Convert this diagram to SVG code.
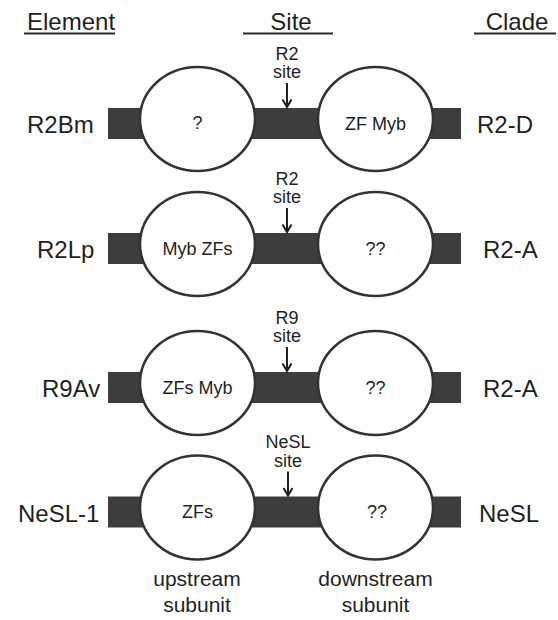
<svg xmlns="http://www.w3.org/2000/svg" width="558" height="620" viewBox="0 0 558 620">
  <style>
    text { font-family: "Liberation Sans", Arial, sans-serif; fill: #1f1f1f; }
    .head { font-size: 24px; }
    .lab { font-size: 24px; }
    .dom { font-size: 18px; text-anchor: middle; }
    .site { font-size: 18px; text-anchor: middle; }
    .sub { font-size: 21px; text-anchor: middle; }
    .bar { fill: #3d3d3d; }
    .unit { fill: #ffffff; stroke: #333333; stroke-width: 2.5; }
    .rule { stroke: #2a2a2a; stroke-width: 2; }
    .arrow { fill: none; stroke: #1f1f1f; stroke-width: 2; }
  </style>

  <!-- column headings -->
  <g id="headings">
    <text class="head" x="27" y="30">Element</text>
    <line class="rule" x1="24" y1="33.5" x2="115" y2="33.5"/>
    <text class="head" x="291" y="30" text-anchor="middle">Site</text>
    <line class="rule" x1="243" y1="33.5" x2="333" y2="33.5"/>
    <text class="head" x="517" y="30" text-anchor="middle">Clade</text>
    <line class="rule" x1="474" y1="33.5" x2="556" y2="33.5"/>
  </g>

  <!-- row 1: R2Bm -->
  <g id="row-R2Bm" transform="translate(0,108)">
    <rect class="bar" x="108" y="0" width="353" height="31"/>
    <g id="R2Bm-up"><ellipse class="unit" cx="197.5" cy="11" rx="57.5" ry="52"/><text class="dom" x="197.5" y="21">?</text></g>
    <g id="R2Bm-down"><ellipse class="unit" cx="375.5" cy="11" rx="57.5" ry="52"/><text class="dom" x="375.5" y="22">ZF Myb</text></g>
    <text class="lab" x="27" y="25">R2Bm</text>
    <text class="lab" x="477" y="25">R2-D</text>
    <text class="site" x="287" y="-48.5">R2</text>
    <text class="site" x="287" y="-30">site</text>
  </g>

  <!-- row 2: R2Lp -->
  <g id="row-R2Lp" transform="translate(0,233)">
    <rect class="bar" x="108" y="0" width="353" height="31"/>
    <g id="R2Lp-up"><ellipse class="unit" cx="197.5" cy="11" rx="57.5" ry="52"/><text class="dom" x="197.5" y="22">Myb ZFs</text></g>
    <g id="R2Lp-down"><ellipse class="unit" cx="375.5" cy="11" rx="57.5" ry="52"/><text class="dom" x="375.5" y="22">??</text></g>
    <text class="lab" x="37" y="25">R2Lp</text>
    <text class="lab" x="483" y="25">R2-A</text>
    <text class="site" x="287" y="-48.5">R2</text>
    <text class="site" x="287" y="-30">site</text>
  </g>

  <!-- row 3: R9Av -->
  <g id="row-R9Av" transform="translate(0,372)">
    <rect class="bar" x="108" y="0" width="353" height="31"/>
    <g id="R9Av-up"><ellipse class="unit" cx="197.5" cy="11" rx="57.5" ry="52"/><text class="dom" x="197.5" y="22">ZFs Myb</text></g>
    <g id="R9Av-down"><ellipse class="unit" cx="375.5" cy="11" rx="57.5" ry="52"/><text class="dom" x="375.5" y="22">??</text></g>
    <text class="lab" x="42" y="25">R9Av</text>
    <text class="lab" x="483" y="25">R2-A</text>
    <text class="site" x="287" y="-48.5">R9</text>
    <text class="site" x="287" y="-30">site</text>
  </g>

  <!-- row 4: NeSL-1 -->
  <g id="row-NeSL-1" transform="translate(0,496.5)">
    <rect class="bar" x="108" y="0" width="353" height="31"/>
    <g id="NeSL-up"><ellipse class="unit" cx="197.5" cy="11" rx="57.5" ry="52"/><text class="dom" x="197.5" y="21">ZFs</text></g>
    <g id="NeSL-down"><ellipse class="unit" cx="375.5" cy="11" rx="57.5" ry="52"/><text class="dom" x="377" y="21">??</text></g>
    <text class="lab" x="18" y="25">NeSL-1</text>
    <text class="lab" x="479" y="25">NeSL</text>
    <text class="site" x="288" y="-48.5">NeSL</text>
    <text class="site" x="288" y="-30">site</text>
  </g>

  <!-- site arrows -->
  <g id="connectors">
    <path class="arrow" d="M287 83V107 M282.5 99.5L287 107L291.5 99.5"/>
    <path class="arrow" d="M287 208V232 M282.5 224.5L287 232L291.5 224.5"/>
    <path class="arrow" d="M287 347V371 M282.5 363.5L287 371L291.5 363.5"/>
    <path class="arrow" d="M288 471.5V495.5 M283.5 488L288 495.5L292.5 488"/>
  </g>

  <!-- subunit captions -->
  <g id="captions">
    <text class="sub" x="197" y="586">upstream</text>
    <text class="sub" x="197" y="612">subunit</text>
    <text class="sub" x="375.5" y="586">downstream</text>
    <text class="sub" x="375.5" y="612">subunit</text>
  </g>
</svg>
